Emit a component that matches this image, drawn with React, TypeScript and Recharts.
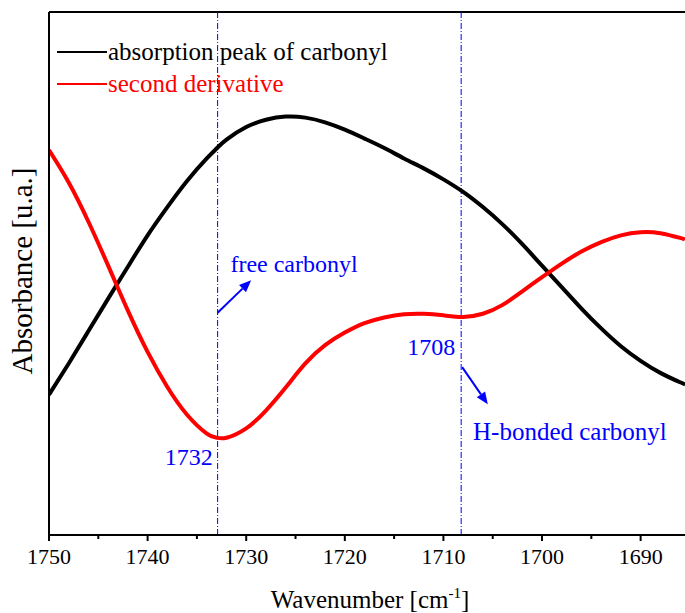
import React from "react";
import {
  LineChart,
  Line,
  XAxis,
  YAxis,
  ReferenceLine,
  ReferenceDot,
} from "recharts";

const wavenumbers = [
  1750, 1748, 1746, 1744, 1742, 1740, 1738, 1736, 1734, 1733, 1732, 1730, 1728,
  1726, 1724, 1722, 1720, 1718, 1716, 1714, 1712, 1710, 1708, 1706, 1704, 1702,
  1700, 1698, 1696, 1694, 1692, 1690, 1688, 1686, 1685.5,
];

const absorptionPeak = [
  0.268, 0.328, 0.39, 0.452, 0.513, 0.573, 0.627, 0.677, 0.72, 0.739, 0.756,
  0.78, 0.794, 0.8, 0.798, 0.789, 0.775, 0.758, 0.74, 0.72, 0.701, 0.68, 0.656,
  0.627, 0.594, 0.556, 0.515, 0.474, 0.433, 0.395, 0.361, 0.333, 0.31, 0.292,
  0.288,
];

const secondDerivative = [
  0.736, 0.674, 0.599, 0.515, 0.429, 0.35, 0.283, 0.23, 0.194, 0.186, 0.186,
  0.204, 0.238, 0.282, 0.328, 0.363, 0.387, 0.405, 0.416, 0.422, 0.423, 0.42,
  0.417, 0.423, 0.44, 0.466, 0.493, 0.519, 0.542, 0.56, 0.573, 0.579, 0.577,
  0.568, 0.565,
];

const xTicks = [1750, 1745, 1740, 1735, 1730, 1725, 1720, 1715, 1710, 1705, 1700, 1695, 1690];
const xDomain = [1685.5, 1750];
const markerLines = [1732.9, 1708.2];

const seriesNames = ["absorption peak of carbonyl", "second derivative"];
const seriesColors = ["#000000", "#ff0000"];

const FONT = "'Liberation Serif', 'Times New Roman', serif";
const BLUE = "#0000ff";

const data = wavenumbers.map((w, i) => ({
  w,
  absorption: absorptionPeak[i],
  derivative: secondDerivative[i],
}));

const XTick = (props: any) => {
  const { x, y, payload } = props;
  const major = payload.value % 10 === 0;
  return (
    <g>
      <line x1={x} y1={y} x2={x} y2={y + (major ? 6 : 4)} stroke="#000" strokeWidth={2} />
      {major && (
        <text x={x} y={y + 29} textAnchor="middle" fontFamily={FONT} fontSize={22} fill="#000">
          {payload.value}
        </text>
      )}
    </g>
  );
};

const XLabel = (props: any) => {
  const vb = props.viewBox;
  const cx = vb.x + vb.width / 2;
  return (
    <text x={cx + 3} y={608} textAnchor="middle" fontFamily={FONT} fontSize={25} fill="#000">
      Wavenumber [cm
      <tspan dy={-10} fontSize={15}>-1</tspan>
      <tspan dy={10}>]</tspan>
    </text>
  );
};

const YLabel = () => (
  <text
    x={0}
    y={0}
    transform="translate(32, 271) rotate(-90)"
    textAnchor="middle"
    fontFamily={FONT}
    fontSize={29}
    fill="#000"
  >
    Absorbance [u.a.]
  </text>
);

const LegendOverlay = () => (
  <svg
    width={360}
    height={80}
    style={{ position: "absolute", left: 49, top: 32, pointerEvents: "none" }}
  >
    {seriesNames.map((name, i) => (
      <g key={name}>
        <line x1={8} x2={58} y1={20 + i * 32} y2={20 + i * 32} stroke={seriesColors[i]} strokeWidth={2} />
        <text x={59} y={28 + i * 32} fontFamily={FONT} fontSize={25} fill={seriesColors[i]}>
          {name}
        </text>
      </g>
    ))}
  </svg>
);

const makeText = (text: string, anchor: string, size: number) => (p: any) => (
  <text x={p.cx} y={p.cy} textAnchor={anchor} fontFamily={FONT} fontSize={size} fill={BLUE}>
    {text}
  </text>
);

const Arrow = (p: any) => {
  const { x1, y1, x2, y2 } = p;
  const ang = Math.atan2(y2 - y1, x2 - x1);
  const len = 12;
  const wid = 5;
  const bx = x2 - len * Math.cos(ang);
  const by = y2 - len * Math.sin(ang);
  const px = -Math.sin(ang) * wid;
  const py = Math.cos(ang) * wid;
  return (
    <g>
      <line x1={x1} y1={y1} x2={bx} y2={by} stroke={BLUE} strokeWidth={2} />
      <polygon points={`${x2},${y2} ${bx + px},${by + py} ${bx - px},${by - py}`} fill={BLUE} />
    </g>
  );
};

export default function App() {
  return (
    <div style={{ position: "absolute", left: 0, top: 0, width: 685, height: 613 }}>
      <LineChart
        width={685}
        height={613}
        data={data}
        margin={{ top: 12, right: 0, bottom: 0, left: 0 }}
      >
        <XAxis
          dataKey="w"
          type="number"
          domain={xDomain}
          reversed
          ticks={xTicks}
          interval={0}
          allowDataOverflow
          tickLine={false}
          tickSize={0}
          tickMargin={0}
          tick={<XTick />}
          axisLine={{ stroke: "#000", strokeWidth: 2 }}
          height={78}
          label={<XLabel />}
        />
        <YAxis
          type="number"
          domain={[0, 1]}
          allowDataOverflow
          tick={false}
          tickLine={false}
          width={49}
          axisLine={{ stroke: "#000", strokeWidth: 2 }}
          label={<YLabel />}
        />
        <ReferenceLine y={1} stroke="#000" strokeWidth={2} />
        {markerLines.map((m) => (
          <ReferenceLine
            key={m}
            x={m}
            stroke={BLUE}
            strokeWidth={1}
            strokeDasharray="6 2 1 2"
          />
        ))}
        <Line
          dataKey="absorption"
          name={seriesNames[0]}
          type="natural"
          stroke={seriesColors[0]}
          strokeWidth={4}
          dot={false}
          isAnimationActive={false}
        />
        <Line
          dataKey="derivative"
          name={seriesNames[1]}
          type="natural"
          stroke={seriesColors[1]}
          strokeWidth={4}
          dot={false}
          isAnimationActive={false}
        />
        <ReferenceLine
          segment={[
            { x: 1732.9, y: 0.425 },
            { x: 1729.5, y: 0.487 },
          ]}
          shape={<Arrow />}
        />
        <ReferenceLine
          segment={[
            { x: 1708.1, y: 0.321 },
            { x: 1705.5, y: 0.25 },
          ]}
          shape={<Arrow />}
        />
        <ReferenceDot x={1731.6} y={0.503} shape={makeText("free carbonyl", "start", 24)} />
        <ReferenceDot x={1733.4} y={0.134} shape={makeText("1732", "end", 24)} />
        <ReferenceDot x={1708.8} y={0.344} shape={makeText("1708", "end", 24)} />
        <ReferenceDot x={1707.0} y={0.182} shape={makeText("H-bonded carbonyl", "start", 25)} />
      </LineChart>
      <LegendOverlay />
    </div>
  );
}
